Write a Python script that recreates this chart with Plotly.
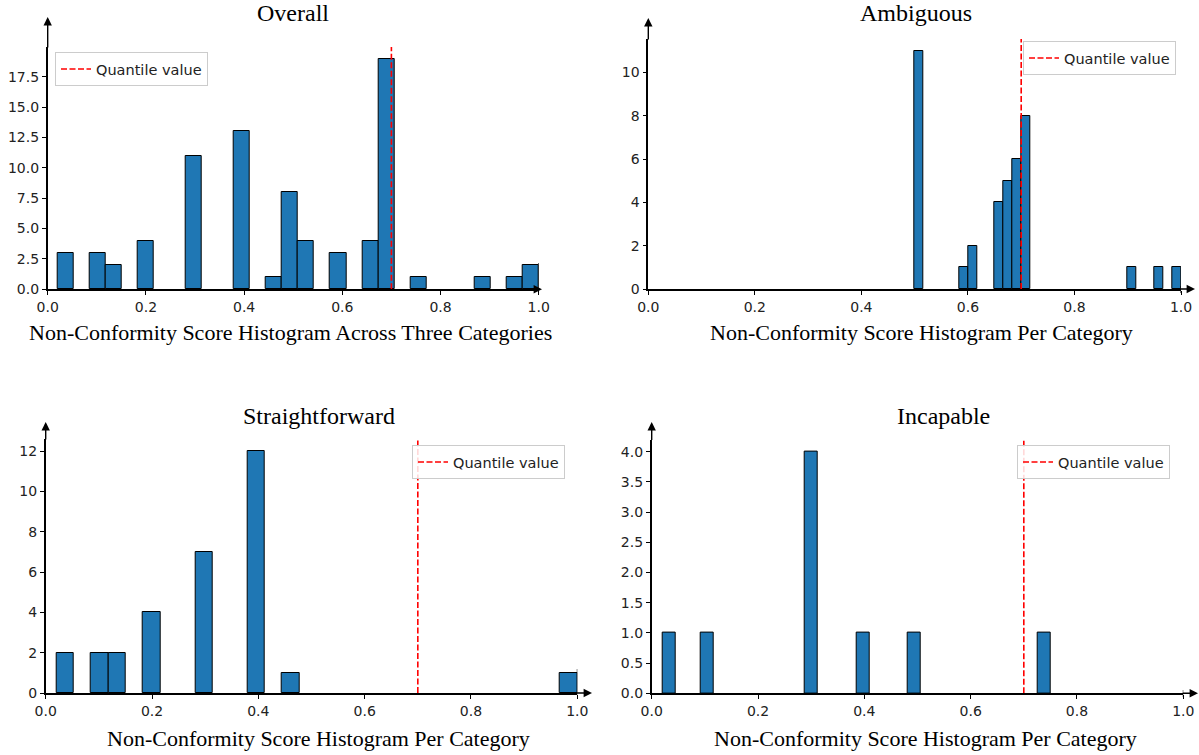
import plotly.graph_objects as go

W, H = 1199, 755

# ---------------- data ----------------
N_BINS = 30
QUANTILE = 0.7

titles = ["Overall", "Ambiguous", "Straightforward", "Incapable"]
xlabels = [
    "Non-Conformity Score Histogram Across Three Categories",
    "Non-Conformity Score Histogram Per Category",
    "Non-Conformity Score Histogram Per Category",
    "Non-Conformity Score Histogram Per Category",
]

overall_range = (0.02, 1.00)
overall_counts = [3, 0, 3, 2, 0, 4, 0, 0, 11, 0, 0, 13, 0, 1, 8, 4, 0, 3, 0, 4,
                  19, 0, 1, 0, 0, 0, 1, 0, 1, 2]

ambiguous_range = (0.50, 1.00)
ambiguous_counts = [11, 0, 0, 0, 0, 1, 2, 0, 0, 4, 5, 6, 8, 0, 0, 0, 0, 0, 0, 0,
                    0, 0, 0, 0, 1, 0, 0, 1, 0, 1]

straight_range = (0.02, 1.00)
straight_counts = [2, 0, 2, 2, 0, 4, 0, 0, 7, 0, 0, 12, 0, 1, 0, 0, 0, 0, 0, 0,
                   0, 0, 0, 0, 0, 0, 0, 0, 0, 1]

incapable_range = (0.02, 0.75)
incapable_counts = [1, 0, 0, 1, 0, 0, 0, 0, 0, 0, 0, 4, 0, 0, 0, 1, 0, 0, 0, 1,
                    0, 0, 0, 0, 0, 0, 0, 0, 0, 1]

x_ticks = [0.0, 0.2, 0.4, 0.6, 0.8, 1.0]
overall_yticks = [0.0, 2.5, 5.0, 7.5, 10.0, 12.5, 15.0, 17.5]
ambiguous_yticks = [0, 2, 4, 6, 8, 10]
straight_yticks = [0, 2, 4, 6, 8, 10, 12]
incapable_yticks = [0.0, 0.5, 1.0, 1.5, 2.0, 2.5, 3.0, 3.5, 4.0]

panels = [
    dict(rng=overall_range, counts=overall_counts, yticks=overall_yticks, yfmt=".1f"),
    dict(rng=ambiguous_range, counts=ambiguous_counts, yticks=ambiguous_yticks, yfmt="d"),
    dict(rng=straight_range, counts=straight_counts, yticks=straight_yticks, yfmt="d"),
    dict(rng=incapable_range, counts=incapable_counts, yticks=incapable_yticks, yfmt=".1f"),
]

# ---------------- layout geometry (pixels) ----------------
geom = [
    dict(x0=47.7, x1=538.7, yb=289.3, yt=47, xtip=542, ytip=17,
         leg=(55, 52), title=(293, 13), xlab=(290, 333), stub=(263, 289.3)),
    dict(x0=648.3, x1=1181, yb=289, yt=39, xtip=1195, ytip=18,
         leg=(1023, 41), title=(916, 13), xlab=(921, 333), stub=(286, 293)),
    dict(x0=45.7, x1=577.3, yb=693, yt=439, xtip=592, ytip=422,
         leg=(412, 445), title=(319, 416), xlab=(318, 738), stub=(669, 695)),
    dict(x0=651.7, x1=1183.3, yb=693.3, yt=439.6, xtip=1198, ytip=422,
         leg=(1017, 445), title=(943, 416), xlab=(925, 738), stub=(690, 697)),
]

def px(x):
    return x / W

def py(y):
    return 1 - y / H

TICK_FONT = dict(family="DejaVu Sans", size=14, color="#222222")
TITLE_FONT = dict(family="Liberation Serif", size=24, color="#000000")
LABEL_FONT = dict(family="Liberation Serif", size=22, color="#000000")

fig = go.Figure()
annotations = []
shapes = []
layout_extra = {}

for i, (p, g) in enumerate(zip(panels, geom)):
    n = i + 1
    xa = "x" if n == 1 else f"x{n}"
    ya = "y" if n == 1 else f"y{n}"
    xkey = "xaxis" if n == 1 else f"xaxis{n}"
    ykey = "yaxis" if n == 1 else f"yaxis{n}"
    legkey = "legend" if n == 1 else f"legend{n}"

    lo, hi = p["rng"]
    bw = (hi - lo) / N_BINS
    centers, heights = [], []
    for k, c in enumerate(p["counts"]):
        if c > 0:
            centers.append(lo + (k + 0.5) * bw)
            heights.append(c)
    ytop = max(p["counts"]) * 1.05

    fig.add_trace(go.Bar(
        x=centers, y=heights, width=bw, xaxis=xa, yaxis=ya,
        marker=dict(color="#1f77b4", line=dict(color="#000000", width=1)),
        showlegend=False,
    ))
    fig.add_trace(go.Scatter(
        x=[QUANTILE, QUANTILE], y=[0, ytop], xaxis=xa, yaxis=ya,
        mode="lines", line=dict(color="#ff0000", width=1.6, dash="6px,2.5px"),
        name="Quantile value", legend=legkey, showlegend=True,
    ))

    layout_extra[xkey] = dict(
        domain=[px(g["x0"]), px(g["x1"])], range=[0, 1], anchor=ya,
        tickvals=x_ticks, tickformat=".1f", ticks="outside", ticklen=4,
        tickwidth=1, tickcolor="#000", showline=True, linecolor="#000",
        linewidth=1.6, showgrid=False, zeroline=False, tickfont=TICK_FONT,
        fixedrange=True, automargin=False,
    )
    layout_extra[ykey] = dict(
        domain=[py(g["yb"]), py(g["yt"])], range=[0, ytop], anchor=xa,
        tickvals=p["yticks"], tickformat=p["yfmt"], ticks="outside", ticklen=4,
        tickwidth=1, tickcolor="#000", showline=True, linecolor="#000",
        linewidth=1.6, showgrid=False, zeroline=False, tickfont=TICK_FONT,
        fixedrange=True, automargin=False,
    )
    layout_extra[legkey] = dict(
        x=px(g["leg"][0]), y=py(g["leg"][1]), xanchor="left", yanchor="top",
        xref="paper", yref="paper",
        bgcolor="rgba(255,255,255,0.85)", bordercolor="#cccccc", borderwidth=1,
        font=dict(family="DejaVu Sans", size=14.5, color="#222222"),
        itemwidth=30,
    )

    # axis arrows
    annotations.append(dict(
        x=px(g["xtip"]), y=py(g["yb"]), xref="paper", yref="paper",
        ax=-(g["xtip"] - g["x1"] + 2), ay=0, text="", showarrow=True,
        arrowhead=2, arrowsize=1.2, arrowwidth=1.4, arrowcolor="#000",
    ))
    annotations.append(dict(
        x=px(g["x0"]), y=py(g["ytip"]), xref="paper", yref="paper",
        ax=0, ay=(g["yt"] - g["ytip"] + 2), text="", showarrow=True,
        arrowhead=2, arrowsize=1.2, arrowwidth=1.4, arrowcolor="#000",
    ))
    # titles and x labels
    annotations.append(dict(
        x=px(g["title"][0]), y=py(g["title"][1]), xref="paper", yref="paper",
        text=titles[i], showarrow=False, xanchor="center", yanchor="middle",
        font=TITLE_FONT,
    ))
    annotations.append(dict(
        x=px(g["xlab"][0]), y=py(g["xlab"][1]), xref="paper", yref="paper",
        text=xlabels[i], showarrow=False, xanchor="center", yanchor="middle",
        font=LABEL_FONT,
    ))
    # small stub at x = 1.0
    shapes.append(dict(
        type="line", xref=xa, yref="paper", x0=1.0, x1=1.0,
        y0=py(g["stub"][0]), y1=py(g["stub"][1]),
        line=dict(color="#000", width=1),
    ))

fig.update_layout(
    width=W, height=H, autosize=False,
    margin=dict(l=0, r=0, t=0, b=0, pad=0, autoexpand=False),
    paper_bgcolor="white", plot_bgcolor="white",
    bargap=0, barmode="overlay",
    annotations=annotations, shapes=shapes,
    **layout_extra,
)

fig.write_html(
    "out.html",
    config={"responsive": False, "displayModeBar": False},
    post_script="document.body.style.margin='0';document.body.style.overflow='hidden';",
)
